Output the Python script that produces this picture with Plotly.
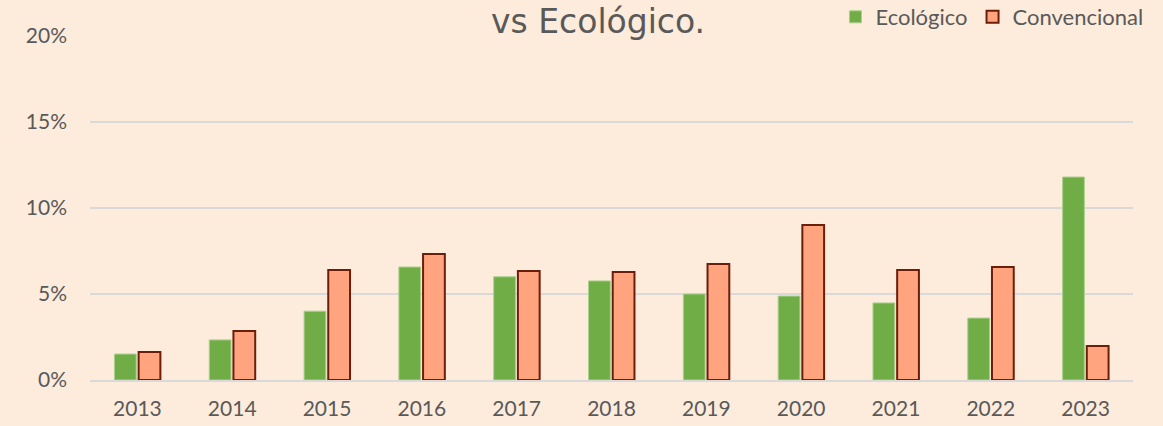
import plotly.graph_objects as go

years = ["2013", "2014", "2015", "2016", "2017", "2018", "2019", "2020", "2021", "2022", "2023"]
ecologico = [0.0151, 0.0233, 0.0400, 0.0657, 0.0600, 0.0576, 0.0500, 0.0488, 0.0448, 0.0360, 0.1180]
convencional = [0.0163, 0.0285, 0.0640, 0.0733, 0.0634, 0.0628, 0.0674, 0.0901, 0.0640, 0.0657, 0.0198]
y_ticks = [0, 0.05, 0.10, 0.15, 0.20]
y_tick_labels = ["0%", "5%", "10%", "15%", "20%"]

TXT = "#595959"
FONT = "Lato, Open Sans, sans-serif"

fig = go.Figure()
fig.add_trace(go.Bar(
    x=years, y=ecologico, name="Ecológico",
    marker=dict(color="#70AD47", line=dict(color="#A9D18E", width=1)),
))
fig.add_trace(go.Bar(
    x=years, y=convencional, name="Convencional",
    marker=dict(color="#FFA47E", line=dict(color="#6B1E0A", width=2)),
))

fig.update_layout(
    width=1163, height=426,
    paper_bgcolor="#FDEBDB", plot_bgcolor="#FDEBDB",
    margin=dict(l=90, r=30, t=36, b=46, autoexpand=False),
    barmode="group", bargap=0.49, bargroupgap=0.1,
    font=dict(family=FONT, color=TXT, size=21),
    showlegend=True,
    legend=dict(
        orientation="h", xref="container", yref="container",
        x=0.9875, xanchor="right", y=0.96, yanchor="middle",
        bgcolor="rgba(0,0,0,0)", font=dict(size=22, color=TXT),
        itemwidth=30, traceorder="normal",
    ),
    xaxis=dict(
        showgrid=False, ticks="", showline=True, linecolor="#D9D9D9", linewidth=2,
        tickfont=dict(size=21, color=TXT), ticklabelstandoff=9,
    ),
    yaxis=dict(
        range=[0, 0.2], tickvals=y_ticks, ticktext=y_tick_labels,
        showgrid=True, gridcolor="#D9D9D9", gridwidth=2, zeroline=False,
        tickfont=dict(size=21, color=TXT), ticklabelstandoff=22,
    ),
    annotations=[dict(
        text="vs Ecológico.", xref="paper", yref="paper", x=0.487, y=1.1047,
        xanchor="center", yanchor="top", yshift=0, showarrow=False,
        font=dict(family="Century Gothic, URW Gothic, DejaVu Sans, sans-serif", size=33, color=TXT),
    )],
)

fig.write_html("out.html", config={"displayModeBar": False},
               post_script="document.body.style.margin='0';")
